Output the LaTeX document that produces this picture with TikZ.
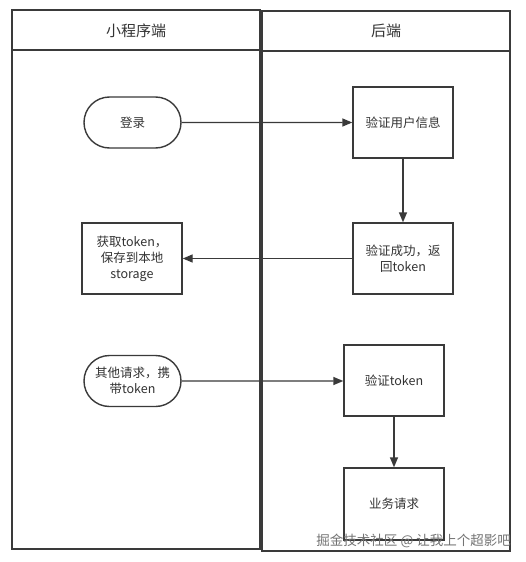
\documentclass[tikz,border=0pt]{standalone}
\usepackage{fontspec}
\setmainfont{Noto Sans CJK SC}
\usetikzlibrary{arrows.meta,shapes.misc}
\definecolor{ln}{HTML}{3A3A3A}
\definecolor{tx}{HTML}{333333}
\tikzset{
  lane/.style={draw=ln,line width=1.6pt},
  procbox/.style={draw=ln,line width=1.4pt,minimum width=100pt,minimum height=71pt,align=center,font=\fontsize{12.5}{16}\selectfont,text=tx,inner sep=2pt},
  termbox/.style={draw=ln,line width=1.4pt,rounded rectangle,minimum width=101pt,minimum height=51pt,align=center,font=\fontsize{12.5}{16}\selectfont,text=tx,inner sep=2pt},
  flow/.style={draw=ln,line width=1.4pt,-{Triangle[length=10pt,width=8pt]}},
  headtxt/.style={font=\fontsize{15}{18}\selectfont,text=tx},
}
\begin{document}
\begin{tikzpicture}[x=1pt,y=-1pt]
\useasboundingbox (0,0) rectangle (525,562);
\fill[white] (0,0) rectangle (525,562);
% lanes
\draw[lane] (12,10) rectangle (260,549);
\draw[lane] (12,50) -- (260,50);
\draw[lane] (262,11) rectangle (510,551);
\draw[lane] (262,51) -- (510,51);
\node[headtxt] (h1) at (136,31) {小程序端};
\node[headtxt] (h2) at (386,31) {后端};
% nodes
\node[termbox] (login) at (132.5,122.5) {登录};
\node[procbox] (verify) at (403,122.5) {验证用户信息};
\node[procbox] (ok) at (403,258.5) {验证成功，返\\回token};
\node[procbox] (save) at (132,258.5) {获取token，\\保存到本地\\storage};
\node[termbox] (other) at (132.5,381) {其他请求，携\\带token};
\node[procbox] (vtok) at (394,380.5) {验证token};
\node[procbox,minimum height=72pt] (biz) at (394,504) {业务请求};
% connectors
\draw[flow] (login) -- (verify);
\draw[flow] (verify) -- (ok);
\draw[flow] (ok) -- (save);
\draw[flow] (other) -- (other -| vtok.west);
\draw[flow] (vtok) -- (biz);
% watermark
\node[text=black!55,font=\fontsize{13.5}{16}\selectfont,anchor=east,inner sep=0pt] (wm) at (511,541) {掘金技术社区 @ 让我上个超影吧};
\end{tikzpicture}
\end{document}
